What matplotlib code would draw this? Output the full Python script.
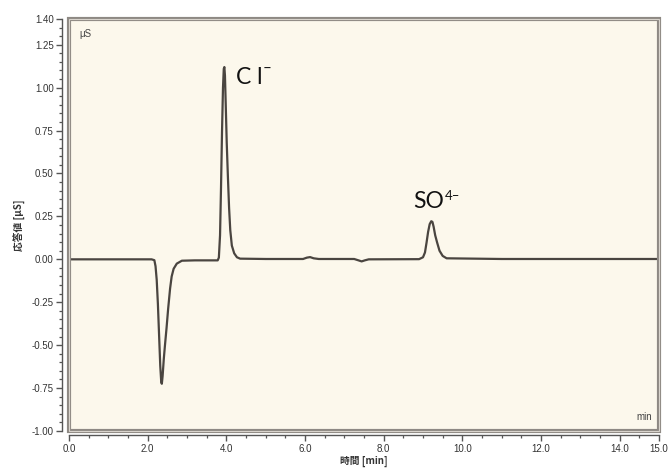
import matplotlib
matplotlib.use("Agg")
import matplotlib.pyplot as plt
from matplotlib.patches import Rectangle
from matplotlib.ticker import MultipleLocator, FixedLocator

# Traced chromatogram (time in min, response in uS)
time_min = [0.00, 1.00, 2.10, 2.17, 2.20, 2.23, 2.26, 2.29, 2.32, 2.345, 2.36, 2.38,
            2.41, 2.44, 2.48, 2.52, 2.57, 2.61, 2.66, 2.74, 2.87, 3.20, 3.78,
            3.81, 3.84, 3.865, 3.89, 3.915, 3.935, 3.95, 3.965, 3.985, 4.01,
            4.04, 4.07, 4.10, 4.14, 4.20, 4.27, 4.35, 5.00, 5.95, 6.05, 6.13,
            6.22, 6.35, 7.25, 7.36, 7.44, 7.52, 7.62, 8.90, 9.00, 9.05, 9.09,
            9.13, 9.17, 9.21, 9.24, 9.27, 9.31, 9.36, 9.42, 9.50, 9.60, 11.0, 15.0]
response_uS = [0.000, 0.000, 0.000, -0.005, -0.04, -0.12, -0.26, -0.44, -0.62, -0.715, -0.725, -0.68,
               -0.58, -0.50, -0.40, -0.29, -0.17, -0.10, -0.055, -0.025, -0.008, -0.006, -0.006,
               0.01, 0.14, 0.42, 0.74, 1.00, 1.11, 1.12, 1.07, 0.90, 0.68,
               0.48, 0.30, 0.17, 0.08, 0.035, 0.012, 0.004, 0.002, 0.002, 0.010, 0.013,
               0.006, 0.002, 0.002, -0.006, -0.012, -0.006, 0.000, 0.001, 0.012, 0.04, 0.097,
               0.16, 0.205, 0.222, 0.218, 0.19, 0.14, 0.097, 0.05, 0.02, 0.006, 0.002, 0.002]

x_ticks = [0, 2, 4, 6, 8, 10, 12, 14, 15]
x_ticklabels = ["0.0", "2.0", "4.0", "6.0", "8.0", "10.0", "12.0", "14.0", "15.0"]
y_ticks = [-1.00, -0.75, -0.50, -0.25, 0.00, 0.25, 0.50, 0.75, 1.00, 1.25, 1.40]
y_ticklabels = ["-1.00", "-0.75", "-0.50", "-0.25", "0.00", "0.25", "0.50", "0.75", "1.00", "1.25", "1.40"]

plt.rcParams['font.family'] = ['Liberation Sans', 'Noto Sans CJK JP', 'DejaVu Sans']

W, H = 670, 469
fig = plt.figure(figsize=(W / 100, H / 100), dpi=100)
fig.patch.set_facecolor('white')
left, right, top, bottom = 69, 659, 19, 431
ax = fig.add_axes([left / W, 1 - bottom / H, (right - left) / W, (bottom - top) / H])
ax.set_facecolor('#FCF8EC')

ax.plot(time_min, response_uS, color='#4a4540', lw=1.6, solid_joinstyle='round')

ax.set_xlim(0, 15)
ax.set_ylim(-1.0, 1.4)

for s in ['top', 'right']:
    ax.spines[s].set_visible(False)
ax.spines['left'].set_position(('outward', 5))
ax.spines['bottom'].set_position(('outward', 3))
for s in ['left', 'bottom']:
    ax.spines[s].set_color('#555555')
    ax.spines[s].set_linewidth(1.0)

# panel frame
ax.add_patch(Rectangle((0, 0), 1, 1, transform=ax.transAxes, fill=False,
                       edgecolor='#8e8984', lw=3.0, clip_on=False, zorder=5))
ax.add_patch(Rectangle((0, 0), 1, 1, transform=ax.transAxes, fill=False,
                       edgecolor='#d8d3cc', lw=0.8, clip_on=False, zorder=6))

ax.xaxis.set_major_locator(FixedLocator(x_ticks))
ax.set_xticklabels(x_ticklabels)
ax.xaxis.set_minor_locator(MultipleLocator(0.5))
ax.yaxis.set_major_locator(FixedLocator(y_ticks))
ax.set_yticklabels(y_ticklabels)
ax.yaxis.set_minor_locator(MultipleLocator(0.05))

ax.tick_params(axis='both', which='major', direction='out', length=4, width=1.0,
               color='#555555', labelsize=7, labelcolor='#333333', pad=2)
ax.tick_params(axis='both', which='minor', direction='out', length=2.5, width=0.9,
               color='#555555')

ax.set_xlabel("時間 [min]", fontsize=7, color='#333333', labelpad=2,
              family=['Noto Sans CJK JP', 'DejaVu Sans'], fontweight='bold')
ax.set_ylabel("応答値 [μS]", fontsize=7, color='#333333', labelpad=4,
              family=['Noto Sans CJK JP', 'DejaVu Sans'], fontweight='bold')

ax.text(0.018, 0.975, "μS", transform=ax.transAxes, fontsize=7, color='#444444',
        ha='left', va='top')
ax.text(0.988, 0.022, "min", transform=ax.transAxes, fontsize=7, color='#444444',
        ha='right', va='bottom')

lab_kw = dict(family=['Lato', 'DejaVu Sans'], fontweight='normal', color='#111111')
ax.text(4.25, 1.02, "C l", fontsize=16.5, ha='left', va='baseline', **lab_kw)
ax.text(4.93, 1.085, "\u2013", fontsize=11, ha='left', va='baseline', **lab_kw)
ax.text(8.75, 0.30, "SO", fontsize=16.5, ha='left', va='baseline', **lab_kw)
ax.text(9.56, 0.345, "4\u2013", fontsize=9.5, ha='left', va='baseline', **lab_kw)

fig.savefig("out.png", dpi=100, facecolor='white')
